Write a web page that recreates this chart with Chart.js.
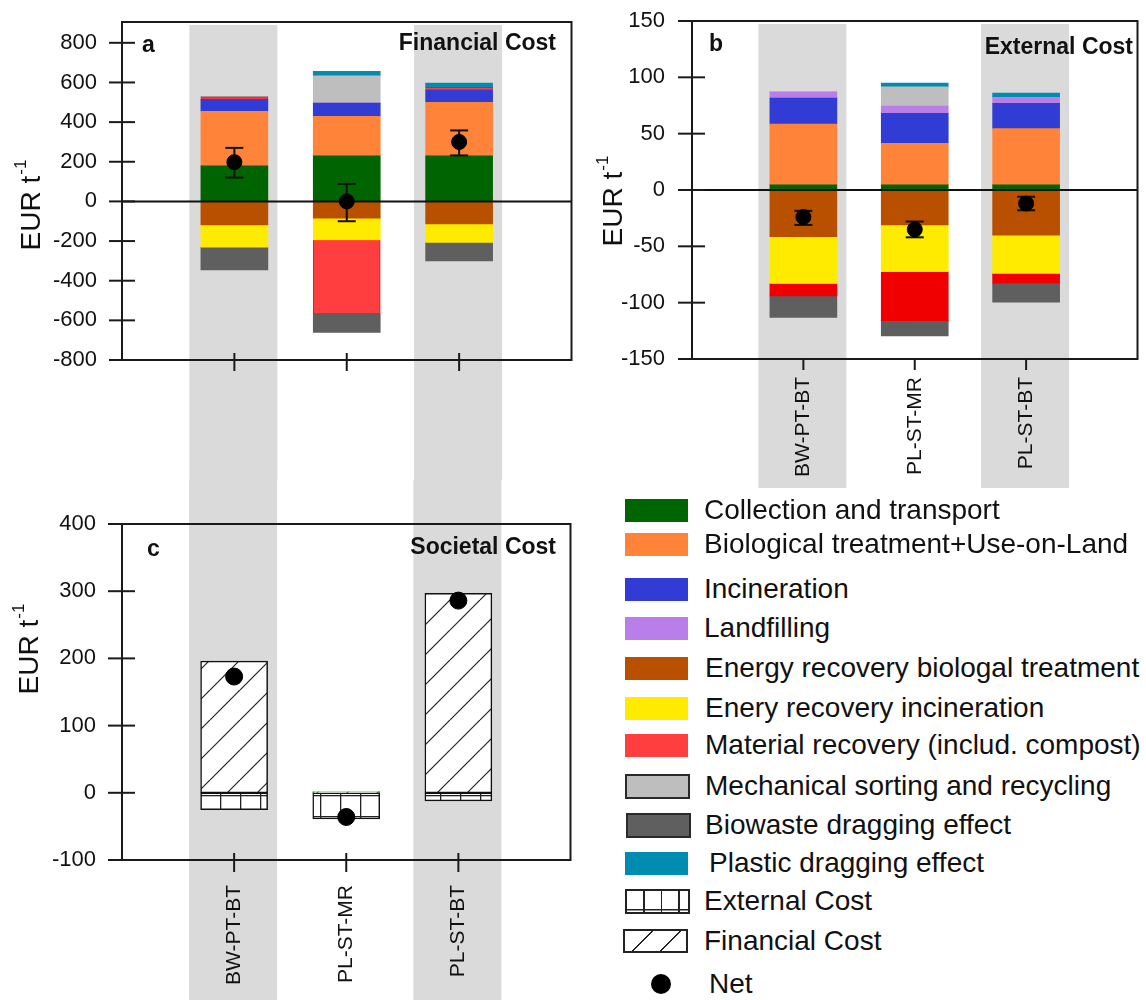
<!DOCTYPE html>
<html>
<head>
<meta charset="utf-8">
<title>Financial, external and societal cost</title>
<script src="https://cdn.jsdelivr.net/npm/chart.js@4.4.1/dist/chart.umd.min.js"></script>
<style>
  body { margin: 0; background: #fff; }
  #page { position: relative; width: 1146px; height: 1000px; overflow: hidden; font-family: "Liberation Sans", Arial, sans-serif; color: #111; }
  canvas { position: absolute; }
  #chartA { left: 0; top: 0; }
  #chartB { left: 580px; top: 0; }
  #chartC { left: 0; top: 480px; }
  .legend-item { position: absolute; height: 32px; line-height: 32px; font-size: 28px; white-space: nowrap; }
  .swatch { position: absolute; box-sizing: border-box; }
</style>
</head>
<body>
<div id="page">
  <canvas id="chartA" width="580" height="480"></canvas>
  <canvas id="chartB" width="566" height="500"></canvas>
  <canvas id="chartC" width="580" height="520"></canvas>
  <div id="legend"></div>
</div>
<script>
const CATEGORIES = ['BW-PT-BT', 'PL-ST-MR', 'PL-ST-BT'];
const COMPONENTS = [
  'Collection and transport',
  'Biological treatment+Use-on-Land',
  'Incineration',
  'Landfilling',
  'Energy recovery biologal treatment',
  'Enery recovery incineration',
  'Material recovery (includ. compost)',
  'Mechanical sorting and recycling',
  'Biowaste dragging effect',
  'Plastic dragging effect'
];
const COMPONENT_COLORS = ['#006400', '#FF8439', '#303CD4', '#BA7EEA', '#B85000', '#FFEB00', '#FF3F3F', '#BEBEBE', '#5F5F5F', '#008CB0'];

// a - Financial cost (EUR t-1)
const FIN_TICKS = [-800, -600, -400, -200, 0, 200, 400, 600, 800];
const FIN_COLLECTION = [180, 230, 230];
const FIN_BIOLOGICAL = [275, 199, 270];
const FIN_INCINERATION = [60, 67, 62];
const FIN_LANDFILLING = [0, 0, 0];
const FIN_ENERGY_BIO = [-118, -84, -113];
const FIN_ENERGY_INC = [-113, -110, -94];
const FIN_MATERIAL = [13, -374, 13];
const FIN_MECHANICAL = [0, 138, 0];
const FIN_BIOWASTE = [-115, -93, -93];
const FIN_PLASTIC = [0, 22, 22];
const FIN_NET = [198, 0, 300];
const FIN_NET_HIGH = [270, 88, 358];
const FIN_NET_LOW = [120, -100, 232];

// b - External cost (EUR t-1)
const EXT_TICKS = [-150, -100, -50, 0, 50, 100, 150];
const EXT_COLLECTION = [4.5, 4.5, 4.5];
const EXT_BIOLOGICAL = [54, 37, 50];
const EXT_INCINERATION = [23, 26.5, 22.5];
const EXT_LANDFILLING = [5.5, 6.5, 5];
const EXT_ENERGY_BIO = [-41.5, -31, -40];
const EXT_ENERGY_INC = [-41.5, -41.5, -34];
const EXT_MATERIAL = [-11, -43.5, -9];
const EXT_MECHANICAL = [0, 17, 0];
const EXT_BIOWASTE = [-19, -13.5, -16.5];
const EXT_PLASTIC = [0, 3.5, 4];
const EXT_NET = [-24, -35, -12];
const EXT_NET_HIGH = [-18.5, -28, -6];
const EXT_NET_LOW = [-31, -42, -18];

// c - Societal cost (EUR t-1)
const SOC_TICKS = [-100, 0, 100, 200, 300, 400];
const SOC_FINANCIAL = [196, 2, 297];
const SOC_EXTERNAL = [-25, -39, -12];
const SOC_NET = [173, -36, 286];

const LEGEND_EXTRA = ['External Cost', 'Financial Cost', 'Net'];

Chart.defaults.font.family = '"Liberation Sans", Arial, sans-serif';
Chart.defaults.color = '#111';

const pad = (arr) => [null, ...arr, null];

function diagonalPattern() {
  const c = document.createElement('canvas');
  c.width = 30;
  c.height = 30;
  const g = c.getContext('2d');
  g.fillStyle = '#fff';
  g.fillRect(0, 0, 30, 30);
  g.strokeStyle = '#222';
  g.lineWidth = 1.2;
  [-30, 0, 30].forEach((o) => {
    g.beginPath();
    g.moveTo(o, 30);
    g.lineTo(o + 30, 0);
    g.stroke();
  });
  return g.createPattern(c, 'repeat');
}

function gridPattern() {
  const c = document.createElement('canvas');
  c.width = 20;
  c.height = 21;
  const g = c.getContext('2d');
  g.fillStyle = '#fff';
  g.fillRect(0, 0, 20, 21);
  g.fillStyle = '#222';
  g.fillRect(0, 0, 1.3, 21);
  g.fillRect(0, 0, 20, 1.3);
  return g.createPattern(c, 'repeat');
}

// per-canvas decoration: bands, frame, ticks, panel titles
const DECOR = {
  chartA: {
    bands: [1, 3], bandTop: 25, bandBottom: 480, zeroLine: true,
    high: FIN_NET_HIGH, low: FIN_NET_LOW,
    yTick: [13, 13], xTick: [-7, 11],
    letter: ['a', 142, 46], title: ['Financial Cost', 556, 44], yTitle: [30, 205]
  },
  chartB: {
    bands: [1, 3], bandTop: 24, bandBottom: 488, zeroLine: true,
    high: EXT_NET_HIGH, low: EXT_NET_LOW,
    yTick: [14, 13], xTick: [0, 11],
    letter: ['b', 129, 45], title: ['External Cost', 553, 48], yTitle: [32, 201]
  },
  chartC: {
    bands: [1, 3], bandTop: 0, bandBottom: 520, zeroLine: false,
    high: null, low: null,
    yTick: [14, 13], xTick: [-7, 12],
    letter: ['c', 147, 70], title: ['Societal Cost', 556, 68], yTitle: [28, 169]
  }
};

function strokeLine(ctx, x1, y1, x2, y2) {
  ctx.beginPath();
  ctx.moveTo(x1, y1);
  ctx.lineTo(x2, y2);
  ctx.stroke();
}

const panelDecor = {
  id: 'panelDecor',
  beforeDraw(chart) {
    const d = DECOR[chart.canvas.id];
    const ctx = chart.ctx;
    const x = chart.scales.x;
    ctx.save();
    ctx.fillStyle = '#DADADA';
    d.bands.forEach((i) => {
      const px = x.getPixelForValue(i);
      ctx.fillRect(px - 45, d.bandTop, 88, d.bandBottom - d.bandTop);
    });
    ctx.restore();
  },
  beforeDatasetDraw(chart, args) {
    if (args.meta.type !== 'line') {
      return;
    }
    const d = DECOR[chart.canvas.id];
    const ctx = chart.ctx;
    const area = chart.chartArea;
    const x = chart.scales.x;
    const y = chart.scales.y;
    ctx.save();
    ctx.strokeStyle = '#111';
    ctx.lineWidth = 2;
    if (d.zeroLine) {
      const y0 = y.getPixelForValue(0);
      strokeLine(ctx, area.left, y0, area.right, y0);
    }
    if (d.high) {
      d.high.forEach((hi, k) => {
        const px = x.getPixelForValue(k + 1);
        const yh = y.getPixelForValue(hi);
        const yl = y.getPixelForValue(d.low[k]);
        strokeLine(ctx, px, yh, px, yl);
        strokeLine(ctx, px - 9, yh, px + 9, yh);
        strokeLine(ctx, px - 9, yl, px + 9, yl);
      });
    }
    ctx.restore();
  },
  afterDraw(chart) {
    const d = DECOR[chart.canvas.id];
    const ctx = chart.ctx;
    const area = chart.chartArea;
    const x = chart.scales.x;
    const y = chart.scales.y;
    ctx.save();
    ctx.strokeStyle = '#1a1a1a';
    ctx.lineWidth = 2;
    ctx.strokeRect(area.left, area.top, area.right - area.left, area.bottom - area.top);
    y.ticks.forEach((t) => {
      const py = y.getPixelForValue(t.value);
      strokeLine(ctx, area.left - d.yTick[0], py, area.left + d.yTick[1], py);
    });
    [1, 2, 3].forEach((i) => {
      const px = x.getPixelForValue(i);
      strokeLine(ctx, px, area.bottom + d.xTick[0], px, area.bottom + d.xTick[1]);
    });

    ctx.fillStyle = '#111';
    ctx.textBaseline = 'middle';
    ctx.font = 'bold 23px "Liberation Sans", Arial, sans-serif';
    ctx.textAlign = 'left';
    ctx.fillText(d.letter[0], d.letter[1], d.letter[2]);
    ctx.textAlign = 'right';
    ctx.fillText(d.title[0], d.title[1], d.title[2]);

    // y axis title: EUR t^-1
    ctx.translate(d.yTitle[0], d.yTitle[1]);
    ctx.rotate(-Math.PI / 2);
    ctx.textAlign = 'left';
    ctx.font = '28px "Liberation Sans", Arial, sans-serif';
    const w1 = ctx.measureText('EUR t').width;
    ctx.font = '17px "Liberation Sans", Arial, sans-serif';
    const w2 = ctx.measureText('-1').width;
    const start = -(w1 + w2 + 1) / 2;
    ctx.font = '28px "Liberation Sans", Arial, sans-serif';
    ctx.fillText('EUR t', start, 2);
    ctx.font = '17px "Liberation Sans", Arial, sans-serif';
    ctx.fillText('-1', start + w1 + 1, -9);
    ctx.restore();
  }
};

function scalesFor(cfg) {
  return {
    x: {
      type: 'category',
      offset: false,
      stacked: true,
      grid: { display: false, drawTicks: false },
      border: { display: false },
      ticks: {
        display: cfg.showLabels,
        autoSkip: false,
        minRotation: 90,
        maxRotation: 90,
        padding: cfg.labelPad,
        font: { size: 21 }
      },
      afterFit: (s) => { s.height = cfg.xHeight; }
    },
    y: {
      type: 'linear',
      min: cfg.min,
      max: cfg.max,
      stacked: true,
      grid: { display: false, drawTicks: false },
      border: { display: false },
      ticks: { padding: cfg.yPad, font: { size: 22 } },
      afterBuildTicks: (s) => { s.ticks = cfg.ticks.map((v) => ({ value: v })); },
      afterFit: (s) => {
        s.width = cfg.yWidth;
        s.paddingTop = 0;
        s.paddingBottom = 0;
      }
    }
  };
}

function stackedSets(series, redColor, redBorder) {
  return series.map((values, i) => ({
    type: 'bar',
    label: COMPONENTS[i],
    data: pad(values),
    backgroundColor: i === 6 ? redColor : COMPONENT_COLORS[i],
    borderColor: i === 6 && redBorder ? redBorder : 'rgba(0,0,0,0)',
    borderWidth: i === 6 && redBorder ? 1 : 0,
    borderSkipped: false,
    barThickness: 67,
    stack: 'cost',
    order: 2
  }));
}

function netSet(values, radius) {
  return {
    type: 'line',
    label: 'Net',
    data: pad(values),
    showLine: false,
    pointRadius: radius,
    pointHoverRadius: radius,
    pointBackgroundColor: '#000',
    pointBorderColor: '#000',
    stack: 'net',
    order: 1
  };
}

const commonPlugins = { legend: { display: false }, tooltip: { enabled: false } };

new Chart(document.getElementById('chartA'), {
  type: 'bar',
  data: {
    labels: pad(CATEGORIES),
    datasets: [
      ...stackedSets([FIN_COLLECTION, FIN_BIOLOGICAL, FIN_INCINERATION, FIN_LANDFILLING, FIN_ENERGY_BIO,
        FIN_ENERGY_INC, FIN_MATERIAL, FIN_MECHANICAL, FIN_BIOWASTE, FIN_PLASTIC], '#FF3F3F', '#FF1010'),
      netSet(FIN_NET, 7.5)
    ]
  },
  options: {
    responsive: false,
    animation: false,
    layout: { padding: { top: 22, right: 7, left: 0, bottom: 0 } },
    plugins: commonPlugins,
    scales: scalesFor({ showLabels: false, labelPad: 0, xHeight: 120, min: -800, max: 905, ticks: FIN_TICKS, yPad: 25, yWidth: 122 })
  },
  plugins: [panelDecor]
});

new Chart(document.getElementById('chartB'), {
  type: 'bar',
  data: {
    labels: pad(CATEGORIES),
    datasets: [
      ...stackedSets([EXT_COLLECTION, EXT_BIOLOGICAL, EXT_INCINERATION, EXT_LANDFILLING, EXT_ENERGY_BIO,
        EXT_ENERGY_INC, EXT_MATERIAL, EXT_MECHANICAL, EXT_BIOWASTE, EXT_PLASTIC], '#F00000', null),
      netSet(EXT_NET, 7.5)
    ]
  },
  options: {
    responsive: false,
    animation: false,
    layout: { padding: { top: 21, right: 3, left: 0, bottom: 0 } },
    plugins: commonPlugins,
    scales: scalesFor({ showLabels: true, labelPad: 18, xHeight: 141, min: -150, max: 150, ticks: EXT_TICKS, yPad: 27, yWidth: 112 })
  },
  plugins: [panelDecor]
});

new Chart(document.getElementById('chartC'), {
  type: 'bar',
  data: {
    labels: pad(CATEGORIES),
    datasets: [
      {
        type: 'bar',
        label: 'Financial Cost',
        data: pad(SOC_FINANCIAL),
        backgroundColor: diagonalPattern(),
        borderColor: (c) => (c.dataIndex === 2 ? '#1E8C1E' : '#111'),
        borderWidth: 1.5,
        borderSkipped: false,
        barThickness: 67,
        stack: 'cost',
        order: 2
      },
      {
        type: 'bar',
        label: 'External Cost',
        data: pad(SOC_EXTERNAL),
        backgroundColor: gridPattern(),
        borderColor: '#111',
        borderWidth: 1.5,
        borderSkipped: false,
        barThickness: 67,
        stack: 'cost',
        order: 2
      },
      netSet(SOC_NET, 8.5)
    ]
  },
  options: {
    responsive: false,
    animation: false,
    layout: { padding: { top: 44, right: 7, left: 0, bottom: 0 } },
    plugins: commonPlugins,
    scales: scalesFor({ showLabels: true, labelPad: 25, xHeight: 140, min: -100, max: 400, ticks: SOC_TICKS, yPad: 26, yWidth: 122 })
  },
  plugins: [panelDecor]
});

// legend
const LEGEND_ROW_Y = [510, 544, 589, 628, 668, 708, 745, 786, 825, 863, 901, 941, 984];
const LEGEND = document.getElementById('legend');

function addLegendRow(text, rowY, textX, swatchCss) {
  const sw = document.createElement('div');
  sw.className = 'swatch';
  sw.style.cssText += swatchCss;
  LEGEND.appendChild(sw);
  const label = document.createElement('div');
  label.className = 'legend-item';
  label.style.left = textX + 'px';
  label.style.top = (rowY - 16) + 'px';
  label.textContent = text;
  LEGEND.appendChild(label);
}

COMPONENTS.forEach((name, i) => {
  const y = LEGEND_ROW_Y[i];
  const bordered = i === 7 || i === 8;
  const w = bordered ? 65 : 63;
  const h = bordered ? 25 : 23;
  const css = `left:${i === 8 ? 626 : 625}px;top:${y - h / 2}px;width:${w}px;height:${h}px;` +
    `background:${COMPONENT_COLORS[i]};` + (bordered ? 'border:2px solid #2a2a2a;' : '');
  addLegendRow(name, y, i === 9 ? 709 : (i >= 4 ? 705 : 704), css);
});

addLegendRow(LEGEND_EXTRA[0], LEGEND_ROW_Y[10], 704,
  `left:625px;top:${LEGEND_ROW_Y[10] - 12}px;width:65px;height:25px;border:2px solid #222;` +
  'background:linear-gradient(#222,#222) 0 calc(100% - 2px)/100% 1.5px no-repeat,' +
  'repeating-linear-gradient(90deg, transparent 0 16px, #222 16px 17.5px), #fff;');
addLegendRow(LEGEND_EXTRA[1], LEGEND_ROW_Y[11], 704,
  `left:623px;top:${LEGEND_ROW_Y[11] - 12}px;width:65px;height:24px;border:2px solid #222;` +
  'background:repeating-linear-gradient(135deg, transparent 0 18.5px, #222 18.5px 20px), #fff;');
addLegendRow(LEGEND_EXTRA[2], LEGEND_ROW_Y[12], 709,
  `left:651px;top:${LEGEND_ROW_Y[12] - 10}px;width:20px;height:20px;border-radius:50%;background:#000;`);
</script>
</body>
</html>
